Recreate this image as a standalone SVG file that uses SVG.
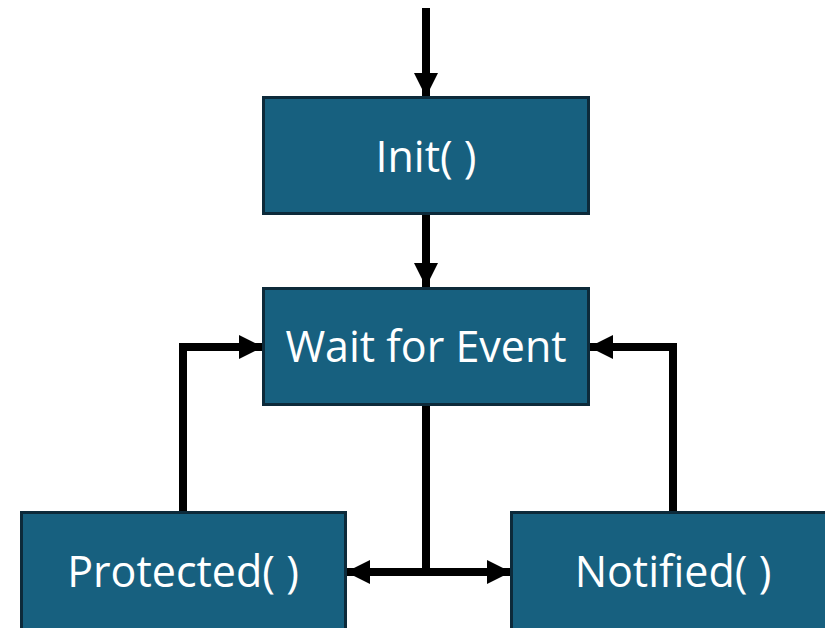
<svg xmlns="http://www.w3.org/2000/svg" width="825" height="628" viewBox="0 0 825 628">
  <defs>
    <marker id="head" viewBox="0 0 12 12" refX="12" refY="6" markerWidth="3" markerHeight="3" markerUnits="strokeWidth" orient="auto-start-reverse">
      <path d="M0,0 L12,6 L0,12 Z" fill="#000"/>
    </marker>
    <style>
      .box { fill: #17607f; stroke: #0d2a3a; stroke-width: 3; }
      .label { fill: #ffffff; font-family: "Open Sans", "Noto Sans", "Liberation Sans", sans-serif; font-size: 43px; text-anchor: middle; dominant-baseline: central; }
      .wire { fill: none; stroke: #000; stroke-width: 8; }
    </style>
  </defs>
  <rect width="825" height="628" fill="#ffffff"/>

  <g id="connectors">
    <path class="wire" d="M426,8 V97" marker-end="url(#head)"/>
    <path class="wire" d="M426,214 V287" marker-end="url(#head)"/>
    <path class="wire" d="M183,512 V347 H263" marker-end="url(#head)"/>
    <path class="wire" d="M673,512 V347 H589" marker-end="url(#head)"/>
    <path class="wire" d="M426,405 V572"/>
    <path class="wire" d="M346,572 H511" marker-start="url(#head)" marker-end="url(#head)"/>
  </g>

  <g id="init">
    <rect class="box" x="263.5" y="97.5" width="325" height="116"/>
    <text class="label" x="426" y="155">Init( )</text>
  </g>

  <g id="wait">
    <rect class="box" x="263.5" y="288.5" width="325" height="116"/>
    <text class="label" x="426" y="345">Wait for Event</text>
  </g>

  <g id="protected">
    <rect class="box" x="21.5" y="512.5" width="324" height="130"/>
    <text class="label" x="183" y="570">Protected( )</text>
  </g>

  <g id="notified">
    <rect class="box" x="511.5" y="512.5" width="324" height="130"/>
    <text class="label" x="673" y="570">Notified( )</text>
  </g>
</svg>
